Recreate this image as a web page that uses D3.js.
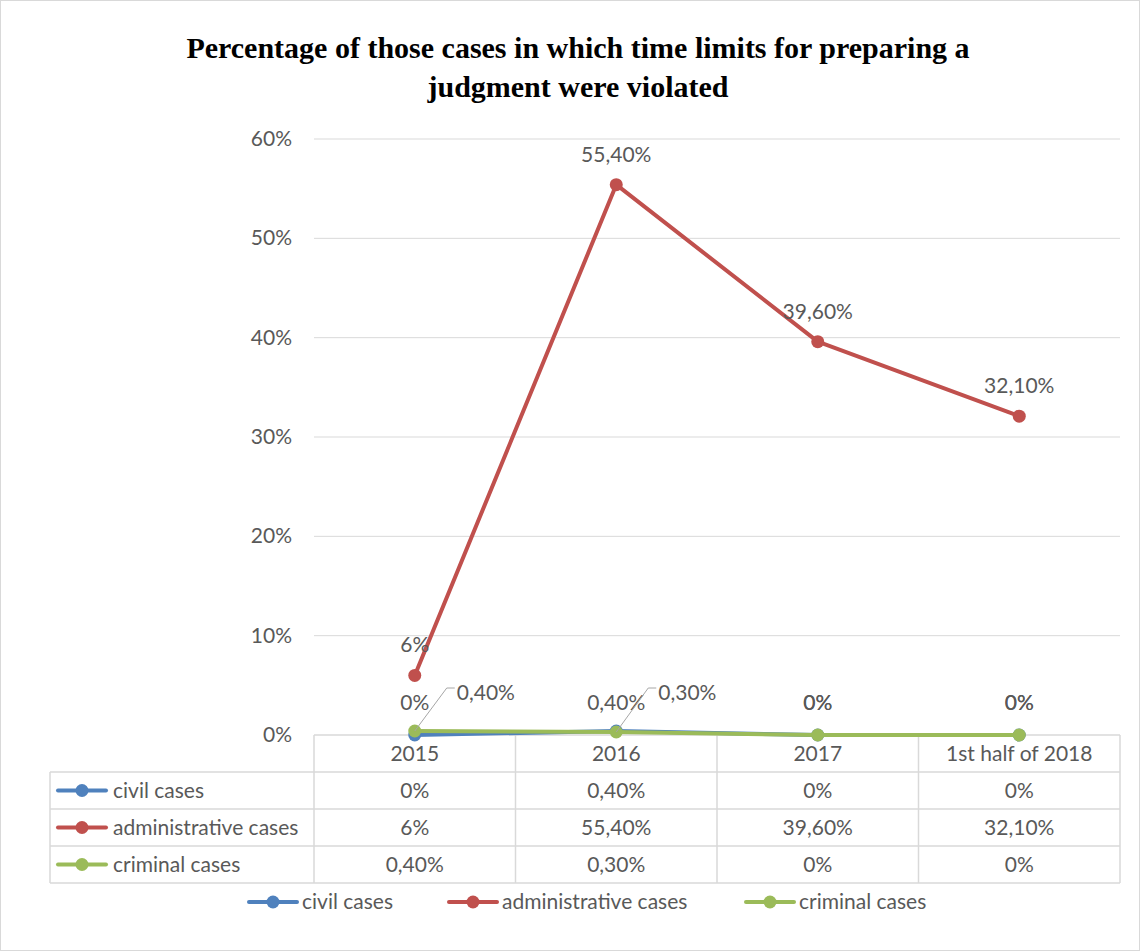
<!DOCTYPE html>
<html>
<head>
<meta charset="utf-8">
<script src="https://cdn.jsdelivr.net/npm/d3@7"></script>
<style>
  body { margin: 0; background: #fff; }
  svg text { font-family: Lato, "Open Sans", sans-serif; }
</style>
</head>
<body>
<svg id="chart" width="1141" height="952"></svg>
<script>
// data
var categories = ["2015", "2016", "2017", "1st half of 2018"];
var seriesNames = ["civil cases", "administrative cases", "criminal cases"];
var civilValues = [0, 0.4, 0, 0];
var adminValues = [6, 55.4, 39.6, 32.1];
var criminalValues = [0.4, 0.3, 0, 0];
var yTicks = [0, 10, 20, 30, 40, 50, 60];

var colors = ["#4F81BD", "#C0504D", "#9BBB59"];
var textColor = "#595959";
var gridColor = "#D9D9D9";
var fontSize = "21px";

var series = [
  { name: seriesNames[0], values: civilValues, color: colors[0] },
  { name: seriesNames[1], values: adminValues, color: colors[1] },
  { name: seriesNames[2], values: criminalValues, color: colors[2] }
];

// 0.4 -> "0,40%", 6 -> "6%"
function fmt(v) {
  if (Number.isInteger(v)) return v + "%";
  return v.toFixed(2).replace(".", ",") + "%";
}

var svg = d3.select("#chart");

// outer border
svg.append("rect")
  .attr("x", 0.5).attr("y", 0.5)
  .attr("width", 1139).attr("height", 950)
  .attr("fill", "none").attr("stroke", gridColor);

// title
var title = svg.append("text")
  .attr("text-anchor", "middle")
  .attr("fill", "#000")
  .style("font-family", "'Liberation Serif', 'DejaVu Serif', serif")
  .style("font-size", "30px")
  .style("font-weight", "600");
title.append("tspan").attr("x", 578).attr("y", 58)
  .text("Percentage of those cases in which time limits for preparing a");
title.append("tspan").attr("x", 578).attr("y", 97)
  .text("judgment were violated");

var plotLeft = 314, plotRight = 1120, plotTop = 139, plotBottom = 735;

var x = d3.scaleBand().domain(categories).range([plotLeft, plotRight]);
var y = d3.scaleLinear().domain([0, 60]).range([plotBottom, plotTop]);
var cx = function(c) { return x(c) + x.bandwidth() / 2; };

// gridlines
svg.append("g")
  .selectAll("line")
  .data(yTicks.filter(function(t) { return t > 0; }))
  .enter().append("line")
  .attr("x1", plotLeft).attr("x2", plotRight)
  .attr("y1", function(d) { return y(d); })
  .attr("y2", function(d) { return y(d); })
  .attr("stroke", gridColor).attr("stroke-width", 1);

// y axis labels
svg.append("g")
  .selectAll("text")
  .data(yTicks)
  .enter().append("text")
  .attr("x", 292)
  .attr("y", function(d) { return y(d) + 7; })
  .attr("text-anchor", "end")
  .attr("fill", textColor)
  .style("font-size", fontSize)
  .text(function(d) { return d + "%"; });

// data table below the plot
var tableLeft = 50;
var rowH = 37;
var rowTops = [plotBottom, plotBottom + rowH, plotBottom + rowH * 2, plotBottom + rowH * 3, plotBottom + rowH * 4];
var table = svg.append("g");

// horizontal lines
table.append("line").attr("x1", plotLeft).attr("x2", plotRight)
  .attr("y1", plotBottom).attr("y2", plotBottom).attr("stroke", gridColor).attr("stroke-width", 1.5);
rowTops.slice(1).forEach(function(ry) {
  table.append("line").attr("x1", tableLeft).attr("x2", plotRight)
    .attr("y1", ry).attr("y2", ry).attr("stroke", gridColor).attr("stroke-width", 1.5);
});
// vertical lines
var colEdges = [plotLeft].concat(categories.map(function(c) { return x(c) + x.bandwidth(); }));
colEdges.forEach(function(cxv) {
  table.append("line").attr("x1", cxv).attr("x2", cxv)
    .attr("y1", plotBottom).attr("y2", rowTops[4]).attr("stroke", gridColor).attr("stroke-width", 1.5);
});
table.append("line").attr("x1", tableLeft).attr("x2", tableLeft)
  .attr("y1", rowTops[1]).attr("y2", rowTops[4]).attr("stroke", gridColor).attr("stroke-width", 1.5);

// category header
table.selectAll(".cat")
  .data(categories)
  .enter().append("text")
  .attr("x", function(d) { return cx(d); })
  .attr("y", plotBottom + 26)
  .attr("text-anchor", "middle")
  .attr("fill", textColor)
  .style("font-size", fontSize)
  .text(function(d) { return d; });

function legendKey(g, x0, yc, color) {
  g.append("line").attr("x1", x0).attr("x2", x0 + 48)
    .attr("y1", yc).attr("y2", yc)
    .attr("stroke", color).attr("stroke-width", 4).attr("stroke-linecap", "round");
  g.append("circle").attr("cx", x0 + 24).attr("cy", yc).attr("r", 6.5).attr("fill", color);
}

series.forEach(function(s, i) {
  var yc = rowTops[i + 1] + rowH / 2;
  legendKey(table, 58, yc, s.color);
  table.append("text").attr("x", 113).attr("y", yc + 7)
    .attr("fill", textColor).style("font-size", fontSize).text(s.name);
  s.values.forEach(function(v, j) {
    table.append("text").attr("x", cx(categories[j])).attr("y", yc + 7)
      .attr("text-anchor", "middle").attr("fill", textColor)
      .style("font-size", fontSize).text(fmt(v));
  });
});

// lines and markers
var line = d3.line()
  .x(function(d, i) { return cx(categories[i]); })
  .y(function(d) { return y(d); });

series.forEach(function(s) {
  svg.append("path")
    .datum(s.values)
    .attr("d", line)
    .attr("fill", "none")
    .attr("stroke", s.color)
    .attr("stroke-width", 4)
    .attr("stroke-linejoin", "round");
  svg.append("g").selectAll("circle")
    .data(s.values)
    .enter().append("circle")
    .attr("cx", function(d, i) { return cx(categories[i]); })
    .attr("cy", function(d) { return y(d); })
    .attr("r", 6.5)
    .attr("fill", s.color);
});

// data labels
var labels = svg.append("g").attr("fill", textColor).style("font-size", fontSize).attr("text-anchor", "middle");

// administrative: above points
adminValues.forEach(function(v, i) {
  labels.append("text").attr("x", cx(categories[i])).attr("y", y(v) - 23).text(fmt(v));
});
// civil: above points
civilValues.forEach(function(v, i) {
  labels.append("text").attr("x", cx(categories[i])).attr("y", plotBottom - 25).text(fmt(v));
});
// criminal: 2015 and 2016 pulled out with leader lines, rest overlap civil
criminalValues.forEach(function(v, i) {
  var px = cx(categories[i]), py = y(v);
  if (i < 2) {
    var ly = plotBottom - 47;
    svg.append("polyline")
      .attr("points", [[px, py], [px + 32, ly], [px + 40, ly]].map(function(p) { return p.join(","); }).join(" "))
      .attr("fill", "none").attr("stroke", "#A6A6A6").attr("stroke-width", 1);
    labels.append("text").attr("x", px + 42).attr("y", ly + 12)
      .attr("text-anchor", "start").text(fmt(v));
  } else {
    labels.append("text").attr("x", px).attr("y", plotBottom - 25).text(fmt(v));
  }
});

// legend at the bottom
var legendItems = [
  { x: 249, name: seriesNames[0], color: colors[0] },
  { x: 449, name: seriesNames[1], color: colors[1] },
  { x: 746, name: seriesNames[2], color: colors[2] }
];
var legend = svg.append("g");
legendItems.forEach(function(it) {
  legendKey(legend, it.x, 902, it.color);
  legend.append("text").attr("x", it.x + 53).attr("y", 909)
    .attr("fill", textColor).style("font-size", fontSize).text(it.name);
});
</script>
</body>
</html>
